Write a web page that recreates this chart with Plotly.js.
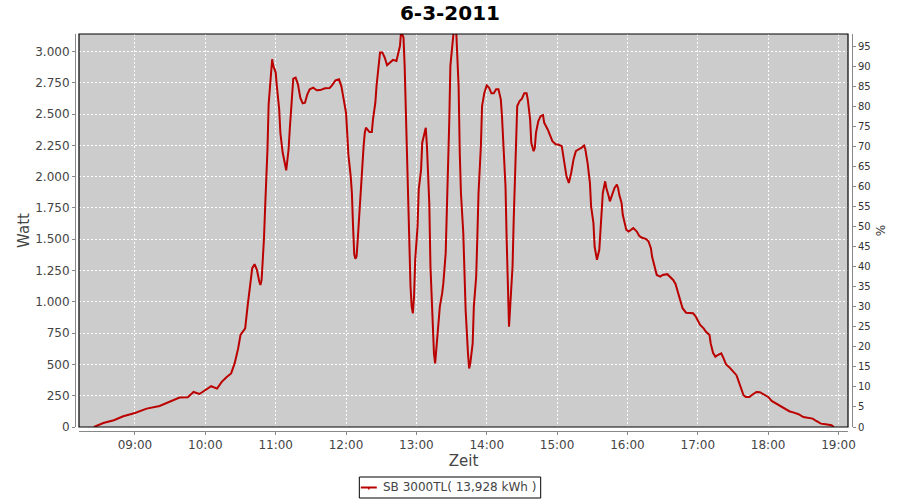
<!DOCTYPE html>
<html>
<head>
<meta charset="utf-8">
<script src="https://cdn.plot.ly/plotly-3.0.1.min.js"></script>
<style>html,body{margin:0;padding:0;background:#fff;}#chart{width:900px;height:500px;}</style>
</head>
<body>
<div id="chart"></div>
<script>
const day = '2011-03-06';
const chartTitle = '6-3-2011';
const seriesName = 'SB 3000TL( 13,928 kWh )';
const times = [
 '08:25','08:33','08:42','08:50','09:00','09:10','09:21','09:30','09:38','09:45','09:50','09:55',
 '10:01','10:05','10:10','10:14','10:18','10:22','10:25','10:28','10:30','10:34','10:36','10:38',
 '10:40','10:42','10:44','10:46','10:47','10:48','10:49','10:50','10:51','10:52','10:53','10:54',
 '10:56','10:57','10:58','11:00','11:01','11:03','11:04','11:06','11:09','11:11','11:12','11:14',
 '11:15','11:17','11:19','11:21','11:23','11:25','11:27','11:29','11:32','11:35','11:38','11:42',
 '11:46','11:48','11:51','11:54','11:56','11:58','12:00','12:01','12:02','12:04','12:05','12:06',
 '12:07','12:08','12:09','12:10','12:11','12:13','12:15','12:16','12:17','12:20','12:22','12:23',
 '12:25','12:26','12:28','12:29','12:31','12:33','12:35','12:37','12:40','12:43','12:44','12:46',
 '12:47','12:49','12:50','12:51','12:52','12:53','12:54','12:55','12:56','12:57','12:58','12:59',
 '13:01','13:02','13:04','13:05','13:07','13:08','13:09','13:11','13:12','13:13','13:14','13:15',
 '13:16','13:17','13:19','13:20','13:22','13:23','13:25','13:26','13:27','13:28','13:29','13:31',
 '13:32','13:34','13:35','13:36','13:37','13:38','13:40','13:41','13:42','13:44','13:45','13:46',
 '13:48','13:49','13:51','13:52','13:53','13:55','13:56','13:58','14:00','14:02','14:04','14:06',
 '14:08','14:10','14:12','14:13','14:14','14:15','14:16','14:17','14:18','14:19','14:20','14:22',
 '14:23','14:24','14:25','14:26','14:28','14:30','14:32','14:34','14:35','14:37','14:38','14:40',
 '14:41','14:42','14:44','14:46','14:48','14:49','14:52','14:54','14:56','14:59','15:01','15:04',
 '15:05','15:07','15:08','15:10','15:12','15:14','15:16','15:18','15:21','15:23','15:24','15:26',
 '15:28','15:29','15:31','15:32','15:34','15:36','15:37','15:38','15:39','15:41','15:42','15:44',
 '15:45','15:47','15:49','15:51','15:52','15:53','15:55','15:56','15:58','15:59','16:01','16:03',
 '16:05','16:08','16:10','16:12','16:16','16:18','16:20','16:21','16:23','16:25','16:28','16:30',
 '16:34','16:36','16:39','16:41','16:43','16:45','16:47','16:50','16:53','16:56','16:58','17:00',
 '17:02','17:05','17:07','17:10','17:11','17:13','17:15','17:17','17:20','17:22','17:24','17:27',
 '17:30','17:33','17:35','17:37','17:39','17:41','17:44','17:47','17:50','17:53','17:56','18:00',
 '18:03','18:07','18:10','18:14','18:18','18:22','18:26','18:30','18:34','18:38','18:41','18:45',
 '18:49','18:54','18:56'
];
const watts = [
 0,32,54,86,112,147,168,206,235,238,280,264,
 300,326,307,361,398,428,508,628,735,788,962,1095,
 1269,1301,1256,1162,1135,1175,1300,1500,1750,1950,2217,2578,
 2832,2938,2885,2832,2724,2538,2351,2191,2051,2217,2377,2644,
 2784,2792,2738,2631,2586,2591,2658,2698,2711,2690,2692,2706,
 2708,2730,2770,2778,2724,2618,2511,2351,2177,2003,1870,1600,
 1380,1345,1362,1500,1656,2003,2244,2351,2391,2356,2356,2457,
 2591,2724,2885,2992,2992,2952,2890,2906,2933,2925,2965,3045,
 3160,3112,2885,2500,2137,1710,1336,1122,962,909,1042,1336,
 1603,1897,2057,2271,2351,2391,2244,1790,1282,1069,775,588,
 508,615,801,962,1069,1149,1389,1683,2057,2431,2885,3125,
 3180,3160,2992,2724,2191,1870,1550,1256,935,588,468,508,
 668,962,1202,1522,1870,2244,2564,2671,2730,2711,2666,2666,
 2698,2698,2618,2484,2297,2137,1923,1500,1042,801,962,1282,
 1656,2003,2351,2564,2604,2623,2666,2666,2618,2457,2271,2204,
 2231,2351,2444,2484,2492,2431,2377,2324,2284,2257,2257,2244,
 2191,2083,2003,1950,2030,2137,2204,2217,2231,2249,2223,2111,
 1950,1763,1630,1442,1336,1416,1576,1790,1870,1963,1910,1843,
 1803,1857,1910,1937,1910,1857,1790,1696,1616,1576,1562,1576,
 1589,1562,1528,1514,1501,1482,1429,1362,1282,1215,1202,1215,
 1221,1202,1175,1143,1082,1015,949,913,913,909,887,849,
 815,788,761,735,668,593,561,575,588,548,502,476,
 449,414,361,308,254,240,240,262,280,278,262,240,
 208,187,166,144,126,115,102,80,75,67,48,27,
 22,14,0
];
const wattTicks = [0,250,500,750,1000,1250,1500,1750,2000,2250,2500,2750,3000];
const pctTicks = [0,5,10,15,20,25,30,35,40,45,50,55,60,65,70,75,80,85,90,95];

const W = 900, H = 500;
const mL = 75, mR = 47.5, mT = 34, mB = 69;
const pw = W - mL - mR, ph = H - mT - mB;
const xDom = [(79 - mL) / pw, (848.5 - mL) / pw];
const yDom = [(431 - 427) / ph, 1];
// pixel -> paper helpers for the legend box below the chart
const px = v => (v - mL) / pw;
const py = v => (H - mB - v) / ph;
const lineColor = '#bb0000';

const trace = {
  x: times.map(t => day + ' ' + t),
  y: watts,
  type: 'scatter',
  mode: 'lines',
  name: seriesName,
  line: {color: lineColor, width: 2},
  xaxis: 'x', yaxis: 'y',
  showlegend: false
};
// empty trace so that the right-hand percentage axis is drawn
const pctAxisHolder = {
  x: [], y: [], type: 'scatter', mode: 'lines', xaxis: 'x', yaxis: 'y2',
  showlegend: false, hoverinfo: 'skip'
};
const font = 'DejaVu Sans, sans-serif';
const layout = {
  width: W, height: H,
  margin: {l: mL, r: mR, t: mT, b: mB, pad: 0, autoexpand: false},
  paper_bgcolor: '#ffffff',
  plot_bgcolor: '#cccccc',
  separators: ',.',
  font: {family: font, size: 12, color: '#444444'},
  title: {text: '<b>' + chartTitle + '</b>', x: 450 / W, xanchor: 'center', y: 1 - 13 / H, yanchor: 'middle', yref: 'container', xref: 'container',
          font: {family: font, size: 20, color: '#000000'}},
  xaxis: {
    type: 'date', domain: xDom, anchor: 'free', position: 0,
    range: [day + ' 08:12:16', day + ' 19:08:06'],
    tick0: day + ' 00:00', dtick: 3600000, tickformat: '%H:%M',
    showline: true, linecolor: '#888888', linewidth: 1,
    ticks: 'outside', ticklen: 3, tickcolor: '#888888',
    tickfont: {family: font, size: 12, color: '#444444'},
    showgrid: true, gridcolor: '#ffffff', griddash: '2px,2px', gridwidth: 1,
    zeroline: false,
    title: {text: 'Zeit', font: {family: font, size: 15, color: '#444444'}, standoff: 4}
  },
  yaxis: {
    domain: yDom, anchor: 'free', position: 0,
    range: [0, 3140], tickvals: wattTicks, tickformat: ',d',
    showline: true, linecolor: '#888888', linewidth: 1,
    ticks: 'outside', ticklen: 3, tickcolor: '#888888',
    tickfont: {family: font, size: 12, color: '#444444'},
    showgrid: true, gridcolor: '#ffffff', griddash: '2px,2px', gridwidth: 1,
    zeroline: false,
    title: {text: 'Watt', font: {family: font, size: 15, color: '#444444'}, standoff: 0}
  },
  yaxis2: {
    domain: yDom, overlaying: 'y', side: 'right', anchor: 'free', position: 1,
    range: [0, 98.125], tickvals: pctTicks,
    showline: true, linecolor: '#888888', linewidth: 1,
    ticks: 'outside', ticklen: 3, tickcolor: '#888888',
    tickfont: {family: font, size: 10, color: '#333333'},
    showgrid: false, zeroline: false,
    title: {text: '%', font: {family: font, size: 12, color: '#333333'}, standoff: 6}
  },
  showlegend: false,
  annotations: [{
    xref: 'paper', yref: 'paper', x: px(381), y: py(487.5), xanchor: 'left', yanchor: 'middle',
    text: seriesName, showarrow: false,
    font: {family: font, size: 12, color: '#444444'}
  }],
  shapes: [
    {type: 'rect', xref: 'x domain', yref: 'y domain', x0: 0, x1: 1, y0: 0, y1: 1,
     line: {color: '#000000', width: 1.2}, fillcolor: 'rgba(0,0,0,0)', layer: 'above'},
    // legend box
    {type: 'rect', xref: 'paper', yref: 'paper', x0: px(359.5), x1: px(541), y0: py(477), y1: py(498),
     line: {color: '#000000', width: 1}, fillcolor: '#ffffff', layer: 'below'},
    // legend line sample
    {type: 'line', xref: 'paper', yref: 'paper', x0: px(361), x1: px(377), y0: py(487.5), y1: py(487.5),
     line: {color: lineColor, width: 2}},
    {type: 'line', xref: 'paper', yref: 'paper', x0: px(369), x1: px(369), y0: py(487.5), y1: py(489.5),
     line: {color: lineColor, width: 1.5}}
  ]
};
Plotly.newPlot('chart', [trace, pctAxisHolder], layout, {displayModeBar: false, staticPlot: true});
</script>
</body>
</html>
